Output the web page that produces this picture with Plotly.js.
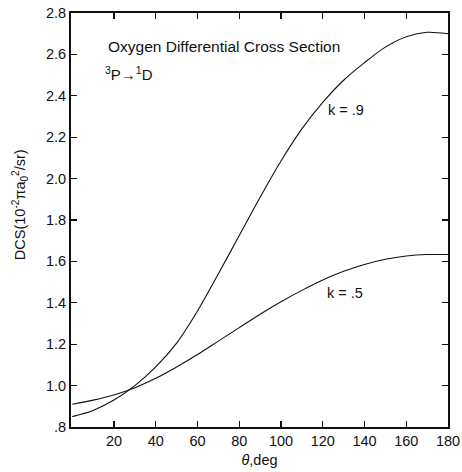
<!DOCTYPE html>
<html>
<head>
<meta charset="utf-8">
<script src="https://cdn.plot.ly/plotly-3.0.1.min.js"></script>
<style>html,body{margin:0;padding:0;background:#fff;}#chart{width:462px;height:472px;}</style>
</head>
<body>
<div id="chart"></div>
<script>
const theta = [0,10,20,30,40,50,60,70,80,90,100,110,120,130,140,150,160,170,180];
const dcsK09 = [0.85,0.88,0.93,1.0,1.09,1.205,1.36,1.54,1.725,1.91,2.085,2.24,2.368,2.475,2.56,2.635,2.685,2.707,2.70];
const dcsK05 = [0.91,0.93,0.955,0.99,1.035,1.09,1.15,1.215,1.28,1.345,1.405,1.46,1.51,1.552,1.585,1.61,1.626,1.633,1.633];
const xTickVals = [20,40,60,80,100,120,140,160,180];
const xTickText = ['20','40','60','80','100','120','140','160','180'];
const yTickVals = [0.8,1.0,1.2,1.4,1.6,1.8,2.0,2.2,2.4,2.6,2.8];
const yTickText = ['.8','1.0','1.2','1.4','1.6','1.8','2.0','2.2','2.4','2.6','2.8'];

const font = 'Liberation Sans, Arial, Helvetica, sans-serif';
const traces = [
  {x: theta, y: dcsK09, mode: 'lines', line: {color: '#111', width: 1.1, shape: 'spline', smoothing: 0.8}, hoverinfo: 'skip'},
  {x: theta, y: dcsK05, mode: 'lines', line: {color: '#111', width: 1.1, shape: 'spline', smoothing: 0.8}, hoverinfo: 'skip'}
];
const layout = {
  width: 462, height: 472,
  margin: {l: 71, r: 14, t: 13, b: 45},
  showlegend: false,
  paper_bgcolor: '#fff', plot_bgcolor: '#fff',
  font: {family: font, color: '#111', size: 14},
  xaxis: {
    range: [-0.6, 180], tickvals: xTickVals, ticktext: xTickText,
    ticks: 'inside', ticklen: 6, tickwidth: 1.2, tickcolor: '#111',
    showline: true, linewidth: 2, linecolor: '#111', mirror: 'ticks',
    showgrid: false, zeroline: false, tickfont: {size: 14.5, family: font},
    title: {text: '<i>θ</i>,deg', font: {size: 14.5, family: font}, standoff: 6}
  },
  yaxis: {
    range: [0.8, 2.8], tickvals: yTickVals, ticktext: yTickText,
    ticks: 'inside', ticklen: 6, tickwidth: 1.2, tickcolor: '#111',
    showline: true, linewidth: 2, linecolor: '#111', mirror: 'ticks',
    showgrid: false, zeroline: false, tickfont: {size: 14.5, family: font}
  },
  annotations: [
    {x: 16, y: 2.64, xref: 'x', yref: 'y', xanchor: 'left', yanchor: 'middle', showarrow: false,
     text: 'Oxygen Differential Cross Section', font: {size: 15.5, family: font}},
    {x: 14.6, y: 2.51, xref: 'x', yref: 'y', xanchor: 'left', yanchor: 'middle', showarrow: false,
     text: '<sup>3</sup>P→<sup>1</sup>D', font: {size: 15, family: font}},
    {x: 121.5, y: 2.33, xref: 'x', yref: 'y', xanchor: 'left', yanchor: 'middle', showarrow: false,
     text: 'k = .9', font: {size: 14.5, family: font}},
    {x: 121, y: 1.447, xref: 'x', yref: 'y', xanchor: 'left', yanchor: 'middle', showarrow: false,
     text: 'k = .5', font: {size: 14.5, family: font}},
    {x: -0.135, y: 0.536, xref: 'paper', yref: 'paper', xanchor: 'center', yanchor: 'middle', showarrow: false,
     textangle: -90, text: 'DCS(10<sup>-2</sup>πa<sub>0</sub><sup>2</sup>/sr)', font: {size: 14.5, family: font}}
  ]
};
Plotly.newPlot('chart', traces, layout, {staticPlot: true, displayModeBar: false});
</script>
</body>
</html>
